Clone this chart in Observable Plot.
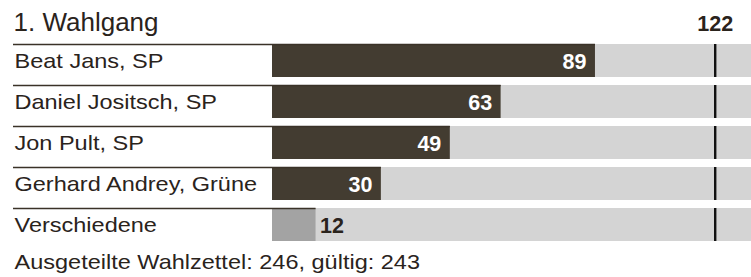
<!DOCTYPE html>
<html><head><meta charset="utf-8">
<script src="https://cdn.jsdelivr.net/npm/d3@7"></script>
<script src="https://cdn.jsdelivr.net/npm/@observablehq/plot@0.6"></script>
<style>body{margin:0;background:#fff} svg{display:block}</style>
</head><body><div id="chart"></div>
<script>
const titel = "1. Wahlgang";
const kandidaten = ["Beat Jans, SP", "Daniel Jositsch, SP", "Jon Pult, SP", "Gerhard Andrey, Grüne", "Verschiedene"];
const stimmen = [89, 63, 49, 30, 12];
const typen = ["kandidat", "kandidat", "kandidat", "kandidat", "verschiedene"];
const absolutesMehr = 122;
const skalaMax = 132;
const fussnote = "Ausgeteilte Wahlzettel: 246, gültig: 243";

const data = kandidaten.map((name, i) => ({name, value: stimmen[i], typ: typen[i]}));
const font = "'Liberation Sans', Arial, Helvetica, sans-serif";
const dunkel = "#433c31";
const textFarbe = "#2a231c";
const labelBreite = 259;   // pixel gap between label column start and bar start
const dehnung = 1.12;      // horizontal stretch of the regular type in the reference

const plot = Plot.plot({
  width: 751, height: 277,
  marginLeft: 13, marginRight: 0, marginTop: 43, marginBottom: 34.5,
  style: {fontFamily: font, background: "#fff"},
  x: {domain: [0, skalaMax], range: [13 + labelBreite, 751], axis: null},
  y: {domain: kandidaten, paddingInner: 0.205, paddingOuter: 0, axis: null},
  marks: [
    Plot.barX(data, {y: "name", x: () => skalaMax, fill: "#d4d4d4"}),
    Plot.barX(data, {y: "name", x: "value", filter: d => d.typ === "kandidat", fill: dunkel}),
    Plot.barX(data, {y: "name", x: "value", filter: d => d.typ !== "kandidat", fill: "#a3a3a3"}),
    Plot.ruleY(data, {y: "name", x2: "value", insetLeft: -labelBreite, dy: -16.5, stroke: "#3a3228", strokeWidth: 1.6}),
    Plot.tickX(data, {y: "name", x: () => absolutesMehr, stroke: "#111", strokeWidth: 2.4}),
    Plot.text(data, {filter: d => d.typ === "kandidat", y: "name", x: "value", text: d => String(d.value),
      textAnchor: "end", dx: -9, dy: 1, fill: "#fff", fontWeight: "bold", fontSize: 21.5}),
    Plot.text(data, {filter: d => d.typ !== "kandidat", y: "name", x: "value", text: d => String(d.value),
      textAnchor: "start", dx: 4, dy: 1, fill: textFarbe, fontWeight: "bold", fontSize: 21.5}),
    Plot.text(data, {y: "name", text: "name", frameAnchor: "left", textAnchor: "start", dx: 1, dy: 0.5,
      fill: textFarbe, fontSize: 21, className: "dehnen"}),
    Plot.text([titel], {text: d => d, frameAnchor: "top-left", textAnchor: "start", lineAnchor: "top", dx: 0, dy: -30.8,
      fill: textFarbe, fontSize: 26}),
    Plot.text([absolutesMehr], {x: d => d, text: d => String(d), frameAnchor: "top", lineAnchor: "top", dy: -27.6,
      fill: textFarbe, fontWeight: "bold", fontSize: 21.5}),
    Plot.text([fussnote], {text: d => d, frameAnchor: "bottom-left", textAnchor: "start", lineAnchor: "top", dx: 1, dy: 11.3,
      fill: textFarbe, fontSize: 21, className: "dehnen"})
  ]
});

// stretch the regular type (names and footnote) horizontally like the reference
const zuDehnen = new Set([...kandidaten, fussnote]);
d3.select(plot).selectAll("text").each(function () {
  if (!zuDehnen.has(this.textContent)) return;
  const x = +(this.getAttribute("x") || 0);
  const t = this.getAttribute("transform") || "";
  this.setAttribute("transform", `${t} translate(${x},0) scale(${dehnung},1) translate(${-x},0)`);
});
document.getElementById("chart").append(plot);
</script>
</body></html>
